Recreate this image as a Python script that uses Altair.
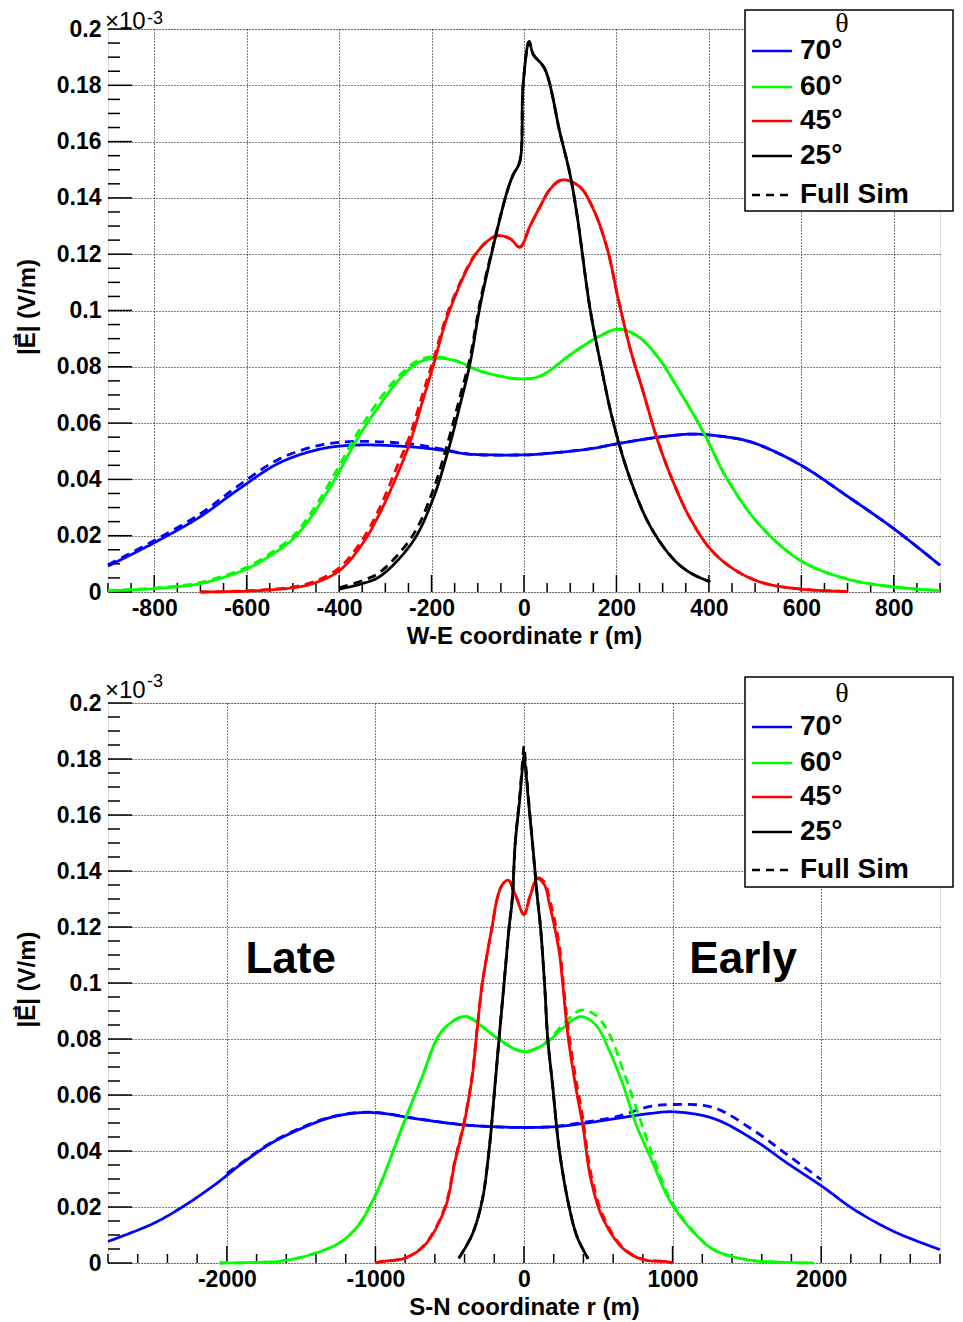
import altair as alt
import pandas as pd

FONT = "Liberation Sans"
SERIF = "Liberation Serif"

THETAS = ["70°", "60°", "45°", "25°"]
COLORS = ["#0000ff", "#00ff00", "#ff0000", "#000000"]
KINDS = ["Param", "Full Sim"]
LEGEND_LABELS = ["70°", "60°", "45°", "25°", "Full Sim"]

# ---------------- W-E panel (|E| in units of 1e-3 V/m) ----------------
we70_r = [-900, -800, -700, -620, -530, -440, -360, -240, -170, -120, 0, 35, 140, 200, 290, 360, 400, 470, 510, 600, 700, 800, 900]
we70_e = [0.0092, 0.0175, 0.0268, 0.0362, 0.0458, 0.0508, 0.0522, 0.0515, 0.0502, 0.0490, 0.0487, 0.0490, 0.0508, 0.0526, 0.0550, 0.0561, 0.0558, 0.0542, 0.0522, 0.0450, 0.0340, 0.0225, 0.0095]
we70d_e = [0.0097, 0.0183, 0.0278, 0.0375, 0.0472, 0.0522, 0.0535, 0.0525, 0.0505, 0.0490, 0.0487, 0.0490, 0.0508, 0.0526, 0.0550, 0.0561, 0.0558, 0.0542, 0.0522, 0.0450, 0.0340, 0.0225, 0.0095]

we60_r = [-900, -800, -700, -600, -550, -500, -457, -406, -362, -312, -269, -226, -186, -145, -95, -9, 35, 106, 165, 204, 245, 288, 338, 388, 440, 512, 600, 700, 800, 900]
we60_e = [0.0004, 0.0012, 0.0030, 0.0082, 0.0128, 0.0188, 0.0275, 0.0410, 0.0540, 0.0665, 0.0757, 0.0817, 0.0830, 0.0820, 0.0785, 0.0757, 0.0767, 0.0850, 0.0910, 0.0934, 0.0910, 0.0838, 0.0710, 0.0568, 0.0400, 0.0234, 0.0110, 0.0046, 0.0018, 0.0005]
we60d_e = [0.0005, 0.0014, 0.0034, 0.0088, 0.0136, 0.0198, 0.0290, 0.0430, 0.0560, 0.0685, 0.0770, 0.0825, 0.0835, 0.0820, 0.0785, 0.0757, 0.0767, 0.0850, 0.0910, 0.0934, 0.0910, 0.0838, 0.0710, 0.0568, 0.0400, 0.0234, 0.0110, 0.0046, 0.0018, 0.0005]

we45_r = [-700, -600, -500, -457, -400, -350, -312, -276, -247, -219, -197, -160, -100, -59, -30, -9, 13, 35, 56, 82, 121, 150, 180, 204, 230, 258, 288, 323, 360, 403, 453, 512, 600, 700]
we45_e = [0.0, 0.0003, 0.0015, 0.0030, 0.0075, 0.0170, 0.0280, 0.0410, 0.0530, 0.0680, 0.0800, 0.1005, 0.1210, 0.1265, 0.1255, 0.1225, 0.1300, 0.1370, 0.1430, 0.1464, 0.1439, 0.1360, 0.1220, 0.1040, 0.0863, 0.0710, 0.0544, 0.0390, 0.0260, 0.0153, 0.0082, 0.0035, 0.0010, 0.0002]
we45d_e = [0.0, 0.0004, 0.0018, 0.0035, 0.0085, 0.0185, 0.0300, 0.0440, 0.0555, 0.0705, 0.0820, 0.1015, 0.1212, 0.1265, 0.1255, 0.1225, 0.1300, 0.1370, 0.1430, 0.1464, 0.1439, 0.1360, 0.1220, 0.1040, 0.0863, 0.0710, 0.0544, 0.0390, 0.0260, 0.0153, 0.0082, 0.0035, 0.0010, 0.0002]

we25_r = [-400, -350, -312, -241, -197, -165, -139, -117, -95, -69, -37, -24, -9, -2, 11, 20, 45, 78, 100, 115, 143, 165, 193, 230, 273, 323, 360, 403]
we25_e = [0.0010, 0.0030, 0.0055, 0.0178, 0.0330, 0.0497, 0.0660, 0.0810, 0.1016, 0.1210, 0.1420, 0.1480, 0.1530, 0.1800, 0.1955, 0.1910, 0.1858, 0.1630, 0.1480, 0.1336, 0.1005, 0.0817, 0.0604, 0.0400, 0.0234, 0.0117, 0.0068, 0.0036]
we25d_e = [0.0015, 0.0040, 0.0070, 0.0200, 0.0360, 0.0530, 0.0690, 0.0830, 0.1030, 0.1215, 0.1420, 0.1480, 0.1530, 0.1800, 0.1955, 0.1910, 0.1858, 0.1630, 0.1480, 0.1336, 0.1005, 0.0817, 0.0604, 0.0400, 0.0234, 0.0117, 0.0068, 0.0036]

# ---------------- S-N panel ----------------
sn70_r = [-2800, -2500, -2300, -2080, -1900, -1700, -1500, -1300, -1100, -960, -736, -418, -215, 0, 213, 395, 619, 849, 1005, 1276, 1547, 1771, 2008, 2225, 2500, 2800]
sn70_e = [0.0077, 0.0140, 0.0200, 0.0280, 0.0355, 0.0428, 0.0480, 0.0520, 0.0537, 0.0535, 0.0516, 0.0494, 0.0487, 0.0484, 0.0487, 0.0498, 0.0516, 0.0534, 0.0540, 0.0516, 0.0440, 0.0357, 0.0273, 0.0190, 0.0110, 0.0048]
sn70d_r = [-2000, -1900, -1700, -1500, -1300, -1100, -960, -736, -418, -215, 0, 213, 395, 619, 849, 1005, 1276, 1547, 1771, 2000]
sn70d_e = [0.0320, 0.0358, 0.0431, 0.0483, 0.0522, 0.0538, 0.0536, 0.0517, 0.0494, 0.0487, 0.0484, 0.0488, 0.0502, 0.0522, 0.0559, 0.0566, 0.0555, 0.0473, 0.0387, 0.0298]

sn60_r = [-2050, -1800, -1634, -1410, -1227, -1112, -1044, -960, -824, -689, -554, -398, -283, -167, 0, 144, 259, 381, 483, 577, 666, 755, 849, 984, 1120, 1276, 1500, 1700, 1950]
sn60_e = [0.0, 0.0002, 0.0007, 0.0034, 0.0077, 0.0137, 0.0196, 0.0290, 0.0480, 0.0660, 0.0827, 0.0880, 0.0845, 0.0798, 0.0755, 0.0784, 0.0838, 0.0880, 0.0850, 0.0755, 0.0637, 0.0494, 0.0380, 0.0220, 0.0123, 0.0048, 0.0012, 0.0003, 0.0]
sn60d_e = [0.0, 0.0002, 0.0007, 0.0034, 0.0077, 0.0137, 0.0196, 0.0290, 0.0480, 0.0660, 0.0827, 0.0882, 0.0845, 0.0798, 0.0755, 0.0786, 0.0850, 0.0903, 0.0885, 0.0815, 0.0690, 0.0555, 0.0410, 0.0228, 0.0125, 0.0048, 0.0012, 0.0003, 0.0]

sn45_r = [-1000, -960, -804, -668, -532, -464, -405, -350, -316, -283, -249, -215, -181, -147, -106, -59, 0, 44, 91, 138, 172, 206, 240, 260, 294, 348, 395, 450, 531, 666, 801, 958, 1000]
sn45_e = [0.0, 0.0005, 0.0017, 0.0064, 0.0195, 0.0363, 0.0494, 0.0660, 0.0830, 0.0990, 0.1100, 0.1200, 0.1300, 0.1350, 0.1367, 0.1316, 0.1245, 0.1316, 0.1373, 0.1350, 0.1280, 0.1200, 0.1100, 0.1000, 0.0820, 0.0630, 0.0494, 0.0300, 0.0159, 0.0052, 0.0012, 0.0005, 0.0]
sn45d_e = [0.0, 0.0005, 0.0017, 0.0066, 0.0200, 0.0370, 0.0500, 0.0665, 0.0835, 0.0990, 0.1100, 0.1200, 0.1300, 0.1350, 0.1367, 0.1316, 0.1245, 0.1316, 0.1375, 0.1360, 0.1300, 0.1225, 0.1125, 0.1025, 0.0850, 0.0660, 0.0520, 0.0320, 0.0170, 0.0055, 0.0013, 0.0005, 0.0]

sn25_r = [-439, -350, -283, -236, -195, -168, -134, -100, -79, -59, -30, -10, 0, 10, 30, 57, 91, 111, 138, 160, 192, 239, 306, 360, 432]
sn25_e = [0.0017, 0.0100, 0.0220, 0.0398, 0.0637, 0.0800, 0.1000, 0.1200, 0.1300, 0.1500, 0.1650, 0.1770, 0.1810, 0.1770, 0.1650, 0.1500, 0.1300, 0.1200, 0.1000, 0.0800, 0.0637, 0.0398, 0.0195, 0.0090, 0.0015]
sn25d_e = [0.0017, 0.0100, 0.0220, 0.0398, 0.0637, 0.0800, 0.1000, 0.1200, 0.1300, 0.1500, 0.1660, 0.1790, 0.1846, 0.1790, 0.1660, 0.1500, 0.1300, 0.1200, 0.1000, 0.0800, 0.0637, 0.0398, 0.0195, 0.0090, 0.0015]

# annotations (bottom panel)
ann_text = ["Late", "Early"]
ann_r = [-1875, 1113]
ann_e = [0.1035, 0.1035]

# axis ticks
y_major = [0, 0.02, 0.04, 0.06, 0.08, 0.1, 0.12, 0.14, 0.16, 0.18, 0.2]
y_minor = [round(0.005 * i, 3) for i in range(41) if i % 4 != 0]
we_major = [-800, -600, -400, -200, 0, 200, 400, 600, 800]
we_minor = [v for v in range(-900, 901, 50) if v % 200 != 0]
sn_major = [-2000, -1000, 0, 1000, 2000]
sn_minor = [v for v in range(-2800, 2801, 200) if v % 1000 != 0]

W = 832


def build_df(series):
    rows = []
    for theta, kind, rs, es in series:
        for r, e in zip(rs, es):
            rows.append({"theta": theta, "kind": kind, "series": theta + " " + kind, "r": r, "e": e})
    return pd.DataFrame(rows)


df_we = build_df([
    ("70°", "Param", we70_r, we70_e), ("70°", "Full Sim", we70_r, we70d_e),
    ("60°", "Param", we60_r, we60_e), ("60°", "Full Sim", we60_r, we60d_e),
    ("45°", "Param", we45_r, we45_e), ("45°", "Full Sim", we45_r, we45d_e),
    ("25°", "Param", we25_r, we25_e), ("25°", "Full Sim", we25_r, we25d_e),
])
df_sn = build_df([
    ("70°", "Param", sn70_r, sn70_e), ("70°", "Full Sim", sn70d_r, sn70d_e),
    ("60°", "Param", sn60_r, sn60_e), ("60°", "Full Sim", sn60_r, sn60d_e),
    ("45°", "Param", sn45_r, sn45_e), ("45°", "Full Sim", sn45_r, sn45d_e),
    ("25°", "Param", sn25_r, sn25_e), ("25°", "Full Sim", sn25_r, sn25d_e),
])


def panel(df, xdom, xmaj, xmin, xtitle, H, box_top, box_bot, theta_y, rows_y, sci_y, exp_y, ann=False):
    xs = alt.Scale(domain=xdom, nice=False, zero=False)
    ys = alt.Scale(domain=[0, 0.2], nice=False, zero=False)
    grid = dict(grid=True, gridDash=[1, 2], gridColor="black", gridWidth=1, gridOpacity=1,
                domain=False, ticks=False, labelFont=FONT, labelFontSize=23,
                labelFontWeight="bold", labelColor="black", labelFlush=False,
                labelOverlap=False, titleFont=FONT, titleFontSize=24,
                titleFontWeight="bold", titleColor="black",
                labelExpr="'' + datum.value")
    xaxis = alt.Axis(values=xmaj, title=xtitle, labelPadding=5, titleX=W / 2, titleY=51,
                     titleBaseline="alphabetic", titleAlign="center", **grid)
    title_c = H / 2 - 4
    yaxis = alt.Axis(values=y_major, title="|E| (V/m)", labelPadding=7, titleX=-74,
                     titleY=title_c, titleAngle=270, titleBaseline="alphabetic",
                     titleAlign="center", **grid)
    X = alt.X("r:Q", scale=xs, axis=xaxis)
    Y = alt.Y("e:Q", scale=ys, axis=yaxis)

    lines = alt.Chart(df).mark_line(interpolate="catmull-rom", strokeWidth=2.8).encode(
        x=X, y=Y,
        color=alt.Color("theta:N", scale=alt.Scale(domain=THETAS, range=COLORS), legend=None),
        strokeDash=alt.StrokeDash("kind:N", scale=alt.Scale(domain=KINDS, range=[[1, 0], [9, 6]]), legend=None),
        detail="series:N",
    )

    def yt(vals, length):
        return alt.Chart(pd.DataFrame({"e": vals})).mark_rule(color="black", strokeWidth=1.5).encode(
            y=Y, x=alt.value(0), x2=alt.value(length))

    def xt(vals, length):
        return alt.Chart(pd.DataFrame({"r": vals})).mark_rule(color="black", strokeWidth=1.5).encode(
            x=X, y=alt.value(H), y2=alt.value(H - length))

    layers = [yt(y_minor, 12), yt(y_major, 24), xt(xmin, 9), xt(xmaj, 17), lines]

    one = alt.Chart(pd.DataFrame({"k": [0]}))
    # vector arrow over the E of the axis title
    layers.append(one.mark_text(font="DejaVu Sans", fontSize=15, fontWeight="bold", align="center",
                                baseline="middle", color="black").encode(
        x=alt.value(-92), y=alt.value(title_c + 48 - 15), text=alt.value("↑")))
    layers.append(one.mark_text(font=FONT, fontSize=24, align="left", baseline="middle", color="black").encode(
        x=alt.value(-3), y=alt.value(sci_y), text=alt.value("×10")))
    layers.append(one.mark_text(font=FONT, fontSize=18, align="left", baseline="middle", color="black").encode(
        x=alt.value(39), y=alt.value(exp_y), text=alt.value("-3")))

    if ann:
        adf = pd.DataFrame({"t": ann_text, "r": ann_r, "e": ann_e})
        layers.append(alt.Chart(adf).mark_text(font=FONT, fontSize=44, fontWeight="bold", align="left",
                                               baseline="alphabetic", color="black").encode(
            x=X, y=Y, text="t:N"))

    # legend box
    layers.append(one.mark_rect(fill="white", stroke="black", strokeWidth=1.5).encode(
        x=alt.value(637), x2=alt.value(845), y=alt.value(box_top), y2=alt.value(box_bot)))
    layers.append(one.mark_text(font=SERIF, fontSize=28, align="center", baseline="middle", color="black").encode(
        x=alt.value(734), y=alt.value(theta_y), text=alt.value("θ")))
    dashes = [[1, 0]] * 4 + [[8, 6]]
    cols = COLORS + ["#000000"]
    for lab, col, dash, yy in zip(LEGEND_LABELS, cols, dashes, rows_y):
        layers.append(one.mark_rule(color=col, strokeWidth=2.5, strokeDash=dash).encode(
            x=alt.value(644), x2=alt.value(684), y=alt.value(yy)))
        layers.append(one.mark_text(font=FONT, fontSize=28, fontWeight="bold", align="left",
                                    baseline="middle", color="black").encode(
            x=alt.value(692), y=alt.value(yy), text=alt.value(lab)))

    return alt.layer(*layers).properties(width=W, height=H)


top = panel(df_we, [-900, 900], we_major, we_minor, "W-E coordinate r (m)", 563,
            -19, 182, -5, [22, 58, 92, 127, 166], -7, -10)
bottom = panel(df_sn, [-2800, 2800], sn_major, sn_minor, "S-N coordinate r (m)", 560,
               -26, 184, -9, [24, 60, 94, 129, 167], -12, -21, ann=True)

chart = alt.vconcat(top, bottom, spacing=23).properties(
    padding={"left": 1, "top": 0, "right": 0, "bottom": 0}
).configure_view(stroke="black", strokeWidth=2).configure(background="white")

chart.save("out.html", embed_options={"renderer": "svg", "actions": False})
